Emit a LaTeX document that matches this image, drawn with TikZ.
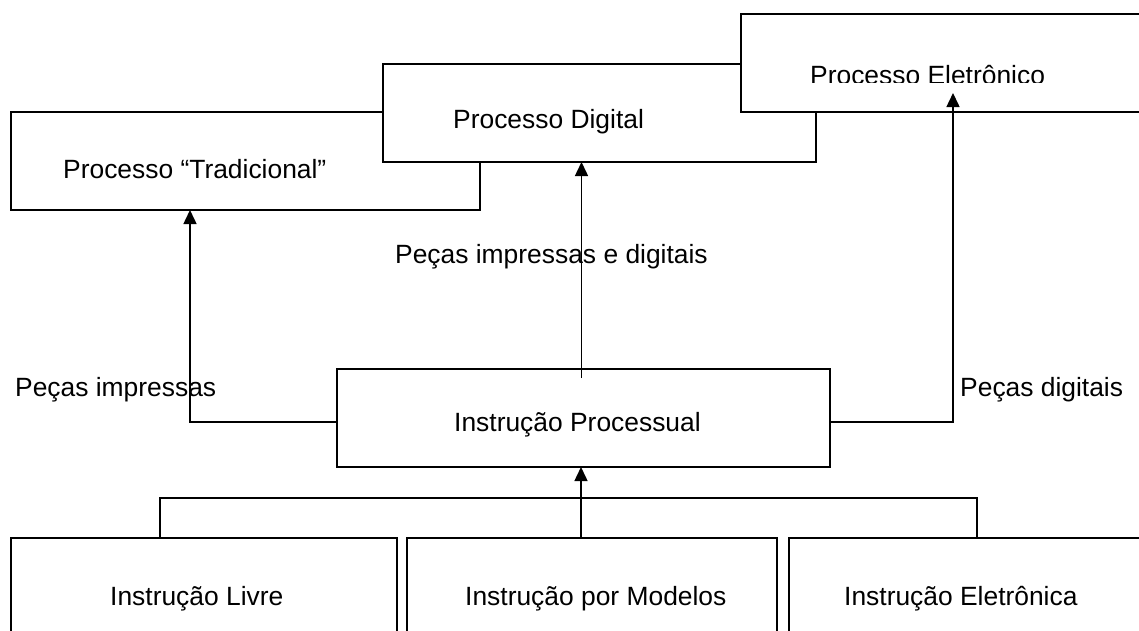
\documentclass[tikz,border=0pt]{standalone}
\usepackage{fontspec}
\setmainfont{Liberation Sans}
\usetikzlibrary{arrows.meta}
\begin{document}
\begin{tikzpicture}[x=1pt,y=-1pt,
  box/.style={draw=black, line width=1.6pt, fill=white, inner sep=0pt, outer sep=0pt},
  lbl/.style={anchor=base west, inner sep=0pt, font=\fontsize{26.4}{30}\selectfont},
  conn/.style={line width=1.5pt},
  arr/.style={conn, -{Triangle[width=13pt,length=14pt]}}]
\clip (0,0) rectangle (1139,630);
% boxes
\node[box, minimum width=469pt, minimum height=98pt] (trad) at (245.5,161) {};
\node[box, minimum width=433pt, minimum height=98pt] (dig) at (599.5,113) {};
\node[box, minimum width=433pt, minimum height=98pt] (ele) at (957.5,63) {};
\node[box, minimum width=493pt, minimum height=98pt] (ip) at (583.5,418) {};
\node[box, minimum width=386pt, minimum height=98pt] (b1) at (204,587) {};
\node[box, minimum width=370pt, minimum height=98pt] (b2) at (592,587) {};
\node[box, minimum width=386pt, minimum height=98pt] (b3) at (982,587) {};
% texts
\node[lbl] (tTrad) at (63,178) {Processo “Tradicional”};
\node[lbl] (tDig) at (453,128) {Processo Digital};
\begin{scope}
\clip (741,0) rectangle (1139,82);
\node[lbl] (tEle) at (810,84) {Processo Eletrônico};
\end{scope}
\node[lbl] (tPID) at (395,263) {Peças impressas e digitais};
\node[lbl] (tPI) at (15,396) {Peças impressas};
\node[lbl] (tPD) at (960,396) {Peças digitais};
\node[lbl] (tIP) at (454,431) {Instrução Processual};
\node[lbl] (tB1) at (110,605) {Instrução Livre};
\node[lbl] (tB2) at (465,605) {Instrução por Modelos};
\node[lbl] (tB3) at (844,605) {Instrução Eletrônica};
% connectors
\draw[arr] ([yshift=-4pt]ip.west) -| ([xshift=-55.5pt]trad.south);
\coordinate (mid) at ([shift={(-2pt,-9pt)}]ip.north);
\draw[arr] (mid) -- (mid |- dig.south);
\draw[arr] ([yshift=-4pt]ip.east) -| ([shift={(-4.5pt,19pt)}]ele.south);
\draw[conn] ([xshift=-44pt]b1.north) -- ++(0,-40) -| ([xshift=-5pt]b3.north);
\draw[arr] ([xshift=-11pt]b2.north) -- ([xshift=-11pt]b2.north |- ip.south);
\end{tikzpicture}
\end{document}
